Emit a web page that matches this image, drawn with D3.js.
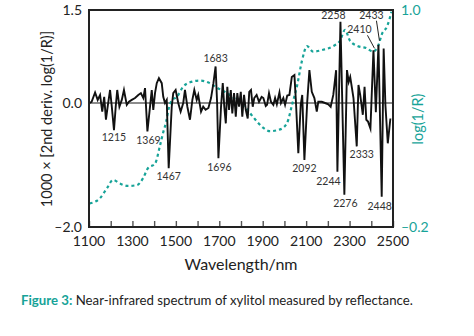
<!DOCTYPE html>
<html><head><meta charset="utf-8">
<script src="https://cdn.jsdelivr.net/npm/d3@7"></script>
<style>body{margin:0;background:#fff}svg{display:block}</style>
</head><body><svg id="c" width="474" height="336"></svg>
<script>
// ---- data ----
const derivWavelengths = [1103,1112,1128,1140,1151,1161,1170,1178,1186,1197,1205,1215,1223,1230,1240,1251,1261,1274,1284,1297,1312,1327,1339,1350,1358,1369,1381,1389,1396,1404,1412,1422,1435,1442,1450,1458,1467,1481,1488,1499,1511,1522,1534,1542,1553,1565,1576,1585,1596,1603,1616,1626,1637,1650,1662,1673,1683,1690,1696,1708,1716,1723,1730,1737,1745,1753,1760,1768,1776,1783,1791,1799,1806,1814,1822,1831,1838,1846,1854,1861,1872,1883,1895,1903,1914,1920,1929,1938,1949,1957,1965,1977,1984,1995,2003,2013,2023,2034,2046,2053,2064,2075,2082,2092,2105,2115,2126,2138,2149,2156,2172,2187,2202,2213,2225,2238,2244,2258,2276,2288,2296,2303,2311,2318,2333,2341,2349,2361,2369,2377,2385,2396,2410,2421,2433,2448,2457,2465,2476,2488];
const derivValues = [0.00,0.02,0.17,0.05,0.13,-0.14,0.10,-0.27,-0.06,0.21,-0.06,-0.44,-0.06,0.21,-0.06,0.05,0.21,-0.03,0.02,0.05,0.08,0.13,0.16,0.08,0.24,-0.46,-0.06,0.21,-0.11,0.16,0.32,0.40,0.32,0.10,0.00,0.05,-1.05,-0.06,0.16,0.21,0.00,-0.14,0.00,0.21,-0.06,-0.27,0.05,0.21,0.05,0.13,-0.14,-0.06,-0.11,-0.08,0.08,0.32,0.59,0.00,-0.89,-0.06,0.32,-0.06,-0.33,0.26,-0.11,0.21,-0.17,0.16,-0.22,0.16,-0.06,0.18,-0.22,0.13,-0.11,-0.25,0.18,0.21,-0.06,0.08,0.13,0.02,0.10,0.08,-0.05,-0.03,0.16,0.02,-0.03,0.08,-0.02,0.17,0.00,0.08,-0.03,0.12,0.13,0.42,0.45,0.02,-0.81,-0.03,0.13,-0.92,0.02,0.53,0.18,0.08,-0.14,0.02,0.02,0.00,-0.02,-0.06,0.13,0.53,-1.11,1.31,-1.48,0.53,0.34,0.42,0.24,0.08,-0.70,0.29,0.13,-0.19,0.26,-0.27,-0.30,-0.41,0.85,-0.15,0.94,-1.51,0.88,-0.03,-0.65,-0.25];
const logWavelengths = [1103,1151,1183,1211,1243,1280,1321,1349,1372,1404,1427,1441,1455,1468,1482,1505,1533,1565,1611,1648,1690,1736,1782,1828,1855,1901,1934,1980,2012,2035,2058,2081,2104,2132,2178,2224,2256,2279,2302,2339,2376,2408,2431,2450,2473,2493];
const logValues = [-0.07,-0.04,0.015,0.06,0.04,0.027,0.032,0.07,0.126,0.15,0.25,0.32,0.38,0.46,0.50,0.52,0.575,0.60,0.61,0.60,0.57,0.54,0.50,0.45,0.41,0.35,0.33,0.34,0.375,0.475,0.58,0.72,0.80,0.77,0.78,0.80,0.83,0.89,0.83,0.80,0.79,0.77,0.80,0.87,0.91,0.99];
const xTicks = [1100,1200,1300,1400,1500,1600,1700,1800,1900,2000,2100,2200,2300,2400,2500];
const xTickLabels = [1100,1300,1500,1700,1900,2100,2300,2500];
const leftTicks = [1.5,0.0,-2.0];
const rightTicks = [1.0,-0.2];
const peakNames = ["1215","1369","1467","1683","1696","2092","2244","2258","2276","2333","2410","2433","2448"];

// ---- layout (kept separate from data) ----
const peakOffsets = {"1215":[0,11],"1369":[1,12.5],"1467":[0,12],"1683":[0,-4.5],"1696":[1,13],
 "2092":[0,12],"2244":[-9,13.5],"2258":[-7,-3],"2276":[1,12.5],"2333":[5,12],"2410":[-14,-17],"2433":[-7,-25.5],"2448":[-2,13.5]};
const leaders = {"2410":[[-6,-15],[1,-2]],"2433":[[-2,-24],[1,-4]]};
const teal = "#17a398";
const font = "Lato, 'Open Sans', sans-serif";

const svg = d3.select("#c");
const L = 89, R = 393, T = 10, B = 227;
const x = d3.scaleLinear().domain([1100,2500]).range([L,R]);
const yL = d3.scaleLinear().domain([-2.0,1.5]).range([B,T]);
const yR = d3.scaleLinear().domain([-0.2,1.0]).range([B,T]);

// zero line
svg.append("line").attr("x1",L).attr("x2",R).attr("y1",yL(0)).attr("y2",yL(0))
  .attr("stroke","#666").attr("stroke-width",1.4);

// bottom ticks (inward)
svg.append("g").attr("transform",`translate(0,${B})`)
  .call(d3.axisBottom(x).tickValues(xTicks).tickSize(-6).tickFormat(""))
  .call(g=>{g.select(".domain").remove(); g.selectAll("line").attr("stroke","#555").attr("stroke-width",1.4);});

// log(1/R) dashed
const logData = logWavelengths.map((w,i)=>[w,logValues[i]]);
svg.append("path").datum(logData)
  .attr("d", d3.line().x(d=>x(d[0])).y(d=>yR(d[1])).curve(d3.curveMonotoneX))
  .attr("fill","none").attr("stroke",teal).attr("stroke-width",2.2).attr("stroke-dasharray","3,3");

// derivative line
const dData = derivWavelengths.map((w,i)=>[w,derivValues[i]]);
svg.append("path").datum(dData)
  .attr("d", d3.line().x(d=>x(d[0])).y(d=>yL(d[1])))
  .attr("fill","none").attr("stroke","#111").attr("stroke-width",1.9).attr("stroke-linejoin","miter").attr("stroke-miterlimit",6);

// frame
svg.append("rect").attr("x",L).attr("y",T).attr("width",R-L).attr("height",B-T)
  .attr("fill","none").attr("stroke","#222").attr("stroke-width",2);

// peak labels
peakNames.forEach(n=>{
  const w = +n;
  const i = derivWavelengths.indexOf(w);
  const px = x(w), py = yL(derivValues[i]);
  const o = peakOffsets[n];
  svg.append("text").attr("x",px+o[0]).attr("y",py+o[1]).attr("text-anchor","middle")
    .attr("font-family",font).attr("font-size",10.5).attr("fill","#333").text(n);
  if (leaders[n]) {
    const [a,b] = leaders[n];
    svg.append("line").attr("x1",px+a[0]).attr("y1",py+a[1]).attr("x2",px+b[0]).attr("y2",py+b[1])
      .attr("stroke","#222").attr("stroke-width",1);
  }
});

// x tick labels
svg.selectAll(".xl").data(xTickLabels).enter().append("text")
  .attr("x",d=>x(d)).attr("y",B+19).attr("text-anchor","middle")
  .attr("font-family",font).attr("font-size",14).attr("fill","#222").text(d=>d);

// left tick labels
svg.selectAll(".yl").data(leftTicks).enter().append("text")
  .attr("x",L-7).attr("y",d=>yL(d)+5).attr("text-anchor","end")
  .attr("font-family",font).attr("font-size",14).attr("fill","#222")
  .text(d=>(d<0?"\u2013":"")+Math.abs(d).toFixed(1));

// right tick labels
svg.selectAll(".yr").data(rightTicks).enter().append("text")
  .attr("x",R+8).attr("y",d=>yR(d)+5).attr("text-anchor","start")
  .attr("font-family",font).attr("font-size",14).attr("fill",teal)
  .text(d=>(d<0?"\u2013":"")+Math.abs(d).toFixed(1));

// axis titles
svg.append("text").attr("transform",`translate(52,119) rotate(-90)`).attr("text-anchor","middle")
  .attr("font-family",font).attr("font-size",14.5).attr("fill","#222").text("1000 \u00d7 [2nd deriv. log(1/R)]");
svg.append("text").attr("transform",`translate(423,119) rotate(-90)`).attr("text-anchor","middle")
  .attr("font-family",font).attr("font-size",14.5).attr("fill",teal).text("log(1/R)");
svg.append("text").attr("x",241).attr("y",270).attr("text-anchor","middle")
  .attr("font-family",font).attr("font-size",16).attr("fill","#222").text("Wavelength/nm");

// caption
const cap = svg.append("text").attr("x",21).attr("y",305).attr("font-family",font).attr("font-size",11.5);
cap.append("tspan").attr("font-weight","bold").attr("fill",teal).text("Figure 3:");
cap.append("tspan").attr("fill","#222").text(" Near-infrared spectrum of xylitol measured by reflectance.");
const cw = cap.node().getComputedTextLength();
if (cw>0) cap.attr("font-size", 11.5*392/cw);
</script></body></html>
